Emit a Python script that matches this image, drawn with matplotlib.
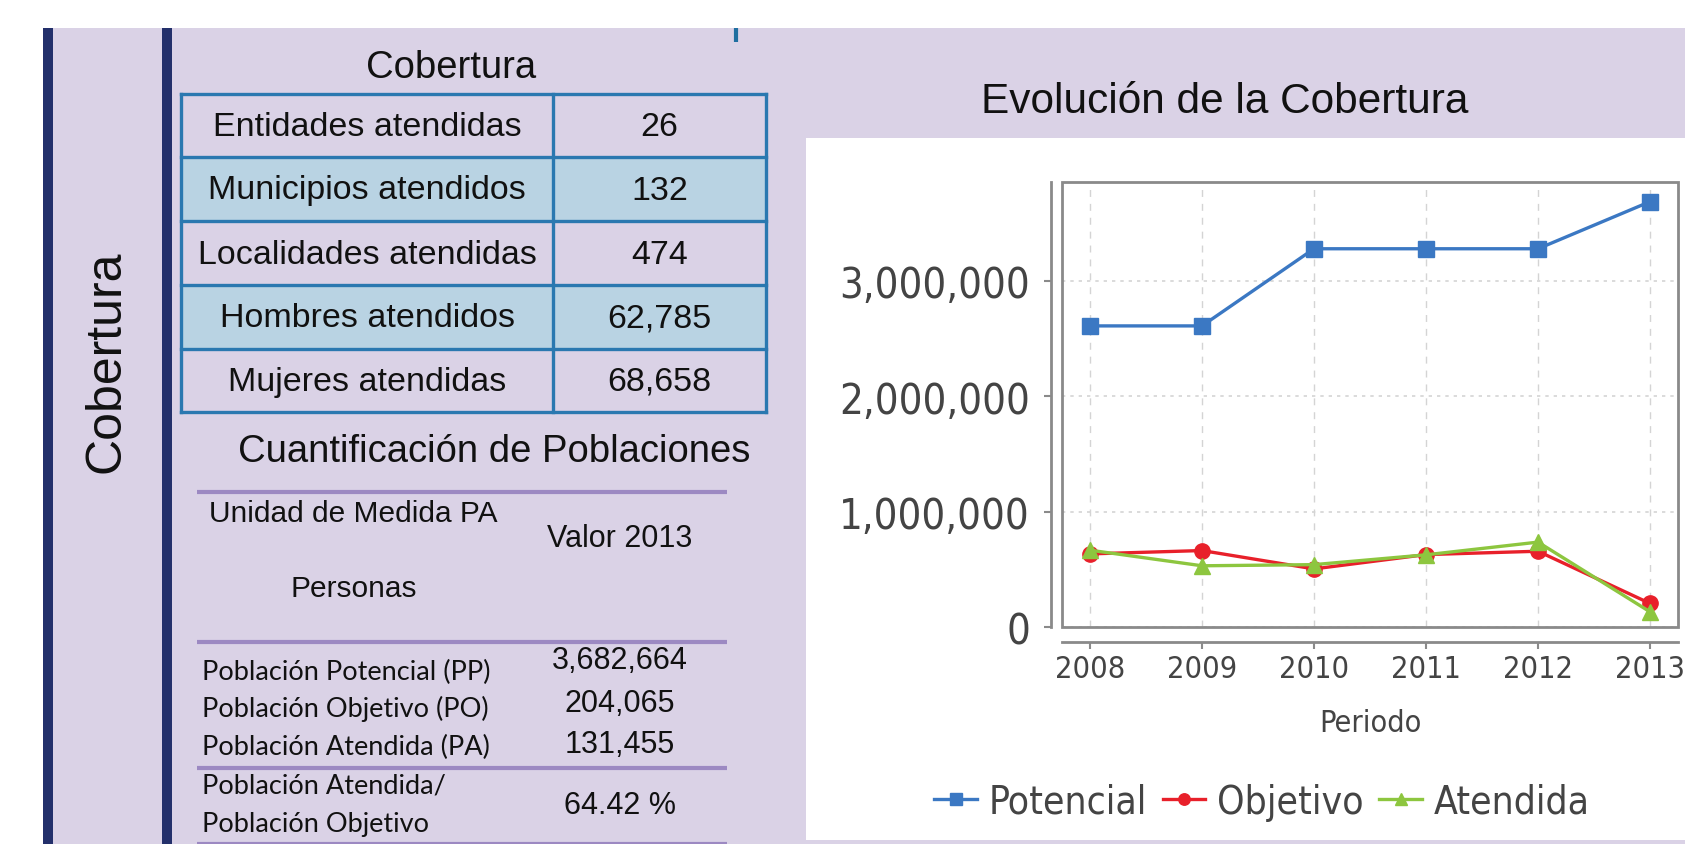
import matplotlib
matplotlib.use('Agg')
import matplotlib.pyplot as plt
from matplotlib.patches import Rectangle
from matplotlib.ticker import FuncFormatter

# datos
anios = [2008, 2009, 2010, 2011, 2012, 2013]
potencial = [2607000, 2607000, 3275000, 3275000, 3275000, 3682664]
objetivo = [633000, 662000, 503000, 627000, 656000, 204065]
atendida = [665000, 530000, 540000, 625000, 735000, 131455]
series_nombres = ['Potencial', 'Objetivo', 'Atendida']

tabla_etiquetas = ['Entidades atendidas', 'Municipios atendidos', 'Localidades atendidas',
                   'Hombres atendidos', 'Mujeres atendidas']
tabla_valores = ['26', '132', '474', '62,785', '68,658']

pob_etiquetas = ['Población Potencial (PP)', 'Población Objetivo (PO)', 'Población Atendida (PA)']
pob_valores = ['3,682,664', '204,065', '131,455']
porcentaje = '64.42 %'

W, H = 1685, 845
lavanda = '#dad2e6'
marino = '#23306b'
azul_borde = '#2a78b0'
azul_fondo = '#b9d3e3'
morado = '#9c89c2'
arial = 'Liberation Sans'
calibri = 'Lato'

fig = plt.figure(figsize=(W / 100, H / 100), dpi=100)
fig.patch.set_facecolor('white')

# fondo en coordenadas de pixel
bg = fig.add_axes([0, 0, 1, 1])
bg.set_xlim(0, W)
bg.set_ylim(H, 0)
bg.axis('off')

bg.add_patch(Rectangle((43, 29), W - 43, H - 29, color=lavanda, lw=0))
bg.add_patch(Rectangle((43, 29), 10, H - 29, color=marino, lw=0))
bg.add_patch(Rectangle((162, 29), 10, H - 29, color=marino, lw=0))
bg.plot([736, 736], [29, 43], color='#1f6fa0', lw=3, solid_capstyle='butt')
bg.add_patch(Rectangle((806, 139), W - 806, 702, color='white', lw=0))

bg.text(107, 362, 'Cobertura', rotation=90, ha='center', va='center',
        family=arial, fontsize=36, color='#111111')

# tabla de cobertura
bg.text(451, 68, 'Cobertura', ha='center', va='center', family=arial, fontsize=27.5, color='#111111')
x0, x1, x2 = 181, 553, 766
filas_y = [95, 158, 222, 286, 350, 413]
for i in range(5):
    ya, yb = filas_y[i], filas_y[i + 1]
    if i % 2 == 1:
        bg.add_patch(Rectangle((x0, ya), x2 - x0, yb - ya, color=azul_fondo, lw=0))
    bg.text((x0 + x1) / 2, (ya + yb) / 2 + 1, tabla_etiquetas[i], ha='center', va='center',
            family=arial, fontsize=24.5, color='#111111')
    bg.text((x1 + x2) / 2, (ya + yb) / 2 + 1, tabla_valores[i], ha='center', va='center',
            family=arial, fontsize=24.5, color='#111111')
for y in filas_y:
    bg.plot([x0, x2], [y, y], color=azul_borde, lw=2.4, solid_capstyle='projecting')
for x in [x0, x1, x2]:
    bg.plot([x, x], [filas_y[0], filas_y[-1]], color=azul_borde, lw=2.4, solid_capstyle='projecting')

# cuantificacion de poblaciones
bg.text(494, 452, 'Cuantificación de Poblaciones', ha='center', va='center',
        family=arial, fontsize=27.5, color='#111111')
for y in [493, 643, 769, 845]:
    bg.plot([197, 727], [y, y], color=morado, lw=3, solid_capstyle='butt')
bg.text(209, 514, 'Unidad de Medida PA', ha='left', va='center', family=arial, fontsize=21.5, color='#111111')
bg.text(620, 539, 'Valor 2013', ha='center', va='center', family=arial, fontsize=22, color='#111111')
bg.text(354, 589, 'Personas', ha='center', va='center', family=arial, fontsize=21.5, color='#111111')
for lab, val, yl, yv in zip(pob_etiquetas, pob_valores, [672, 709, 747], [661, 704, 745]):
    bg.text(202, yl, lab, ha='left', va='center', family=calibri, fontsize=19.5, color='#111111')
    bg.text(620, yv, val, ha='center', va='center', family=arial, fontsize=22, color='#111111')
bg.text(202, 786, 'Población Atendida/', ha='left', va='center', family=calibri, fontsize=19.5, color='#111111')
bg.text(202, 825, 'Población Objetivo', ha='left', va='center', family=calibri, fontsize=19.5, color='#111111')
bg.text(620, 806, porcentaje, ha='center', va='center', family=arial, fontsize=22, color='#111111')

# grafica
bg.text(1225, 102, 'Evolución de la Cobertura', ha='center', va='center',
        family=arial, fontsize=30.5, color='#111111')

ax = fig.add_axes([1062 / W, 1 - 628 / H, 616 / W, 445 / H])
ax.set_facecolor('white')
ax.plot(anios, potencial, color='#3b78c3', lw=2.4, marker='s', ms=11, label=series_nombres[0], zorder=3)
ax.plot(anios, objetivo, color='#e8202a', lw=2.4, marker='o', ms=11, label=series_nombres[1], zorder=3)
ax.plot(anios, atendida, color='#8dc63f', lw=2.4, marker='^', ms=11, label=series_nombres[2], zorder=4)

ax.set_xlim(2007.75, 2013.25)
ax.set_ylim(0, 3853000)
ax.set_xticks(anios)
ax.set_yticks([0, 1000000, 2000000, 3000000])
ax.yaxis.set_major_formatter(FuncFormatter(lambda v, p: f'{int(v):,}'))
ax.grid(axis='x', color='#d4d4d4', ls=(0, (5, 5)), lw=1)
ax.grid(axis='y', color='#d4d4d4', ls=(0, (2, 3)), lw=1.2)
ax.set_axisbelow(True)

for s in ['top', 'right']:
    ax.spines[s].set_visible(False)
ax.spines['left'].set_position(('outward', 8))
ax.spines['bottom'].set_position(('outward', 11))
for s in ['left', 'bottom']:
    ax.spines[s].set_color('#8a8a8a')
    ax.spines[s].set_linewidth(2)
ax.add_patch(Rectangle((0, 0), 1, 1, transform=ax.transAxes, fill=False,
                       ec='#8a8a8a', lw=2, zorder=5, clip_on=False))

ax.tick_params(axis='both', colors='#8a8a8a', width=1.5, length=5, labelcolor='#444444')
ax.tick_params(axis='y', pad=10)
for t in ax.get_yticklabels():
    t.set_fontsize(30)
    t.set_fontstretch('condensed')
for t in ax.get_xticklabels():
    t.set_fontsize(22)
    t.set_fontstretch('condensed')
ax.set_xlabel('Periodo', fontsize=22, color='#444444', labelpad=18, fontstretch='condensed')

leg = fig.legend(loc='center', bbox_to_anchor=(1262 / W, 1 - 803 / H), ncol=3, frameon=False,
                 handlelength=1.1, handletextpad=0.3, columnspacing=0.4, markerscale=0.75,
                 prop=dict(size=28, stretch='condensed'))
for t in leg.get_texts():
    t.set_color('#444444')

fig.savefig('out.png', dpi=100)
